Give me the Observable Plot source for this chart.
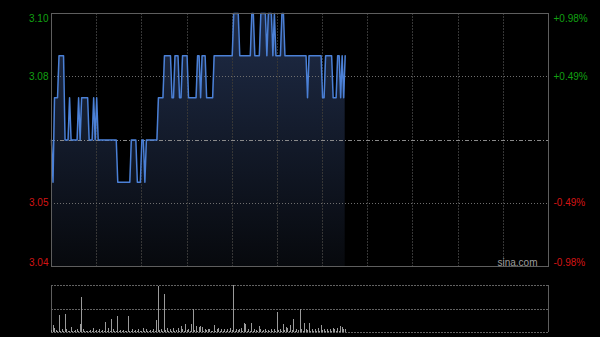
<!DOCTYPE html>
<html><head><meta charset="utf-8">
<script src="https://cdn.jsdelivr.net/npm/d3@7"></script>
<script src="https://cdn.jsdelivr.net/npm/@observablehq/plot@0.6"></script>
<style>
html,body{margin:0;padding:0;background:#000;}
#chart{position:relative;width:600px;height:337px;background:#000;overflow:hidden;}
#chart svg{position:absolute;left:0;display:block;}
</style></head><body><div id="chart"></div>
<script>
const prevClose = 3.07;
// one price per trading minute (HK session, 330 minutes)
const prices = [
3.07,3.06,3.08,3.08,3.08,3.09,3.09,3.09,3.09,3.07,
3.07,3.07,3.08,3.07,3.07,3.07,3.07,3.07,3.08,3.07,
3.08,3.08,3.08,3.08,3.08,3.07,3.07,3.07,3.08,3.07,
3.08,3.07,3.07,3.07,3.07,3.07,3.07,3.07,3.07,3.07,
3.07,3.07,3.07,3.07,3.06,3.06,3.06,3.06,3.06,3.06,
3.06,3.06,3.06,3.07,3.07,3.07,3.07,3.06,3.06,3.06,
3.07,3.07,3.06,3.07,3.07,3.07,3.07,3.07,3.07,3.07,
3.07,3.08,3.08,3.08,3.08,3.09,3.09,3.09,3.09,3.09,
3.08,3.08,3.09,3.09,3.09,3.08,3.08,3.09,3.09,3.09,
3.09,3.08,3.08,3.08,3.08,3.08,3.08,3.09,3.09,3.08,
3.09,3.09,3.09,3.08,3.08,3.08,3.08,3.08,3.09,3.09,
3.09,3.09,3.09,3.09,3.09,3.09,3.09,3.09,3.09,3.09,
3.09,3.10,3.10,3.10,3.10,3.09,3.09,3.09,3.09,3.09,
3.09,3.09,3.09,3.10,3.10,3.09,3.09,3.09,3.09,3.10,
3.10,3.10,3.10,3.09,3.10,3.10,3.10,3.09,3.10,3.09,
3.09,3.09,3.09,3.10,3.10,3.09,3.09,3.09,3.09,3.09,
3.09,3.09,3.09,3.09,3.09,3.09,3.09,3.09,3.09,3.09,
3.08,3.09,3.09,3.09,3.09,3.09,3.09,3.09,3.09,3.09,
3.08,3.08,3.09,3.09,3.09,3.09,3.09,3.08,3.08,3.08,
3.09,3.09,3.08,3.09,3.08,3.09
];
const volumes = [
5,14,9,4,3,36,3,7,2,39,
6,3,2,11,3,2,4,6,3,18,
75,6,3,2,3,2,4,3,9,2,
4,2,6,3,4,2,22,3,9,2,
28,6,3,2,34,3,4,2,4,3,
2,35,3,2,7,3,4,2,6,3,
2,9,3,6,2,3,4,2,6,3,
25,97,4,6,3,80,4,9,3,6,
2,9,3,4,9,3,13,6,3,16,
4,7,3,18,50,4,13,3,11,13,
11,3,6,4,7,6,3,2,14,3,
6,9,2,7,3,6,2,7,3,9,
4,100,3,7,4,6,9,3,20,18,
3,6,2,20,3,6,4,2,13,7,
3,4,7,2,4,3,6,2,7,3,
43,4,6,3,16,4,11,9,3,14,
4,27,3,7,4,48,6,3,20,7,
4,20,3,7,2,6,3,9,2,14,
4,7,3,6,2,7,3,9,6,2,
9,3,13,11,7,6
];
const sessionMinutes = 330;
const gridMinutes = [30,60,90,120,150,180,210,240,270,300];
const tickValues = [3.10, 3.085, 3.055, 3.04];
const leftTickLabels = ["3.10","3.08","3.05","3.04"];
const rightTickLabels = ["+0.98%","+0.49%","-0.49%","-0.98%"];
const tickColors = ["#12a012","#12a012","#d41414","#d41414"];
const watermark = "sina.com";

const priceData = prices.map((p, i) => ({m: i, p}));
const volData = volumes.map((v, i) => ({m: i, v}));
const ticks = tickValues.map((v, i) => ({v, l: leftTickLabels[i], r: rightTickLabels[i], c: tickColors[i]}));
const font = "Arial, 'Liberation Sans', sans-serif";

function labelMarks(rows, anchor, dy) {
  return [
    Plot.text(rows, {y: "v", text: "l", fill: "c", frameAnchor: "left", textAnchor: "end", dx: -3, lineAnchor: anchor, dy}),
    Plot.text(rows, {y: "v", text: "r", fill: "c", frameAnchor: "right", textAnchor: "start", dx: 5, lineAnchor: anchor, dy})
  ];
}

const main = Plot.plot({
  width: 600, height: 270,
  marginLeft: 51, marginRight: 52, marginTop: 13, marginBottom: 4,
  style: {background: "transparent", fontFamily: font, fontSize: "10px", overflow: "visible"},
  x: {domain: [0, sessionMinutes], axis: null},
  y: {domain: [tickValues[3], tickValues[0]], axis: null},
  color: {type: "identity"},
  marks: [
    Plot.areaY(priceData, {x: "m", y1: tickValues[3], y2: "p", fill: "url(#pgrad)"}),
    Plot.ruleX(gridMinutes, {stroke: "#363636", strokeDasharray: "2,1", shapeRendering: "crispEdges"}),
    Plot.ruleY([tickValues[1], tickValues[2]], {stroke: "#6e6e6e", strokeDasharray: "1,2", shapeRendering: "crispEdges"}),
    Plot.ruleY([prevClose], {stroke: "#8a8a8a", strokeDasharray: "4,2,1,2", shapeRendering: "crispEdges"}),
    Plot.lineY(priceData, {x: "m", y: "p", stroke: "#4b80d6", strokeWidth: 1.5}),
    Plot.frame({stroke: "#5e5e5e", shapeRendering: "crispEdges"}),
    ...labelMarks([ticks[0]], "top", 1),
    ...labelMarks([ticks[1], ticks[2]], "middle", 0),
    ...labelMarks([ticks[3]], "bottom", -1),
    Plot.text([watermark], {text: d => d, frameAnchor: "bottom-right", textAnchor: "end", lineAnchor: "bottom", dx: -11, dy: -1, fill: "#9c9c9c", fontSize: 10})
  ]
});

const defs = d3.select(main).insert("defs", ":first-child");
const g = defs.append("linearGradient").attr("id", "pgrad")
  .attr("gradientUnits", "userSpaceOnUse").attr("x1", 0).attr("x2", 0).attr("y1", 13).attr("y2", 266);
g.append("stop").attr("offset", "0%").attr("stop-color", "#1f2c48");
g.append("stop").attr("offset", "100%").attr("stop-color", "#07090d");

const vol = Plot.plot({
  width: 600, height: 67,
  marginLeft: 51, marginRight: 52, marginTop: 15, marginBottom: 5,
  style: {background: "transparent"},
  x: {domain: [0, sessionMinutes], axis: null},
  y: {domain: [0, 100], axis: null},
  marks: [
    Plot.ruleY([0, 50, 100], {stroke: "#626262", strokeDasharray: "2,1", shapeRendering: "crispEdges"}),
    Plot.ruleX([0, sessionMinutes], {stroke: "#5e5e5e", shapeRendering: "crispEdges"}),
    Plot.ruleX(volData, {x: "m", y1: 0, y2: "v", stroke: "#9a9a9a", strokeWidth: 1, shapeRendering: "crispEdges"})
  ]
});

const root = document.getElementById("chart");
main.style.top = "0px";
vol.style.top = "270px";
root.appendChild(main);
root.appendChild(vol);
</script></body></html>
